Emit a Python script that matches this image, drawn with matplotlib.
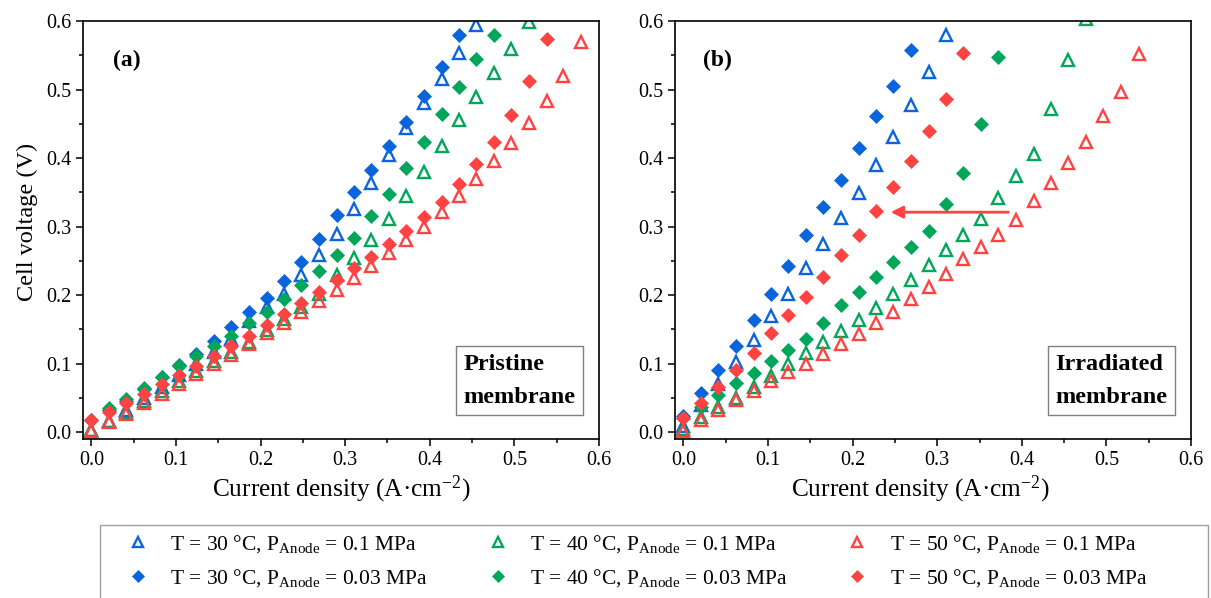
import matplotlib
matplotlib.use('Agg')
import matplotlib.pyplot as plt
from matplotlib.patches import Rectangle
from matplotlib.ticker import MultipleLocator, FormatStrFormatter

plt.rcParams['font.family'] = 'Liberation Serif'
plt.rcParams['mathtext.fontset'] = 'custom'
plt.rcParams['mathtext.rm'] = 'Liberation Serif'
plt.rcParams['mathtext.it'] = 'Liberation Serif:italic'
plt.rcParams['mathtext.bf'] = 'Liberation Serif:bold'

# current density steps (A/cm2)
j = [0.0, 0.021, 0.041, 0.062, 0.083, 0.103, 0.124, 0.145, 0.165, 0.186,
     0.207, 0.228, 0.248, 0.269, 0.290, 0.310, 0.331, 0.352, 0.372, 0.393,
     0.414, 0.434, 0.455, 0.476, 0.496, 0.517, 0.538, 0.558, 0.579]

# (a) pristine membrane, cell voltage (V)
a30_01 = [0.003, 0.016, 0.032, 0.050, 0.066, 0.083, 0.100, 0.117, 0.136, 0.162,
          0.183, 0.202, 0.230, 0.259, 0.289, 0.326, 0.364, 0.405, 0.444, 0.480,
          0.516, 0.554, 0.594]
a30_003 = [0.018, 0.032, 0.046, 0.063, 0.081, 0.098, 0.114, 0.133, 0.153, 0.175,
           0.196, 0.221, 0.249, 0.282, 0.317, 0.350, 0.383, 0.417, 0.452, 0.491,
           0.533, 0.580]
a40_01 = [0.003, 0.016, 0.030, 0.045, 0.060, 0.075, 0.089, 0.104, 0.117, 0.131,
          0.149, 0.165, 0.183, 0.201, 0.230, 0.254, 0.281, 0.311, 0.344, 0.380,
          0.418, 0.455, 0.489, 0.524, 0.559, 0.598]
a40_003 = [0.018, 0.035, 0.048, 0.065, 0.080, 0.096, 0.111, 0.126, 0.141, 0.159,
           0.176, 0.194, 0.214, 0.235, 0.259, 0.284, 0.315, 0.348, 0.385, 0.424,
           0.464, 0.503, 0.544, 0.580]
a50_01 = [0.001, 0.015, 0.027, 0.042, 0.055, 0.070, 0.085, 0.099, 0.113, 0.128,
          0.144, 0.159, 0.175, 0.192, 0.208, 0.225, 0.243, 0.261, 0.280, 0.300,
          0.321, 0.344, 0.369, 0.396, 0.422, 0.451, 0.483, 0.520, 0.570]
a50_003 = [0.018, 0.030, 0.042, 0.056, 0.070, 0.083, 0.097, 0.111, 0.126, 0.141,
           0.157, 0.173, 0.189, 0.204, 0.222, 0.240, 0.256, 0.274, 0.293, 0.314,
           0.336, 0.362, 0.391, 0.423, 0.463, 0.513, 0.573]

# (b) irradiated membrane
b30_01 = [0.009, 0.039, 0.070, 0.103, 0.134, 0.169, 0.202, 0.240, 0.275, 0.312,
          0.349, 0.390, 0.431, 0.477, 0.525, 0.580]
b30_003 = [0.024, 0.057, 0.091, 0.125, 0.163, 0.201, 0.243, 0.287, 0.329, 0.368,
           0.414, 0.461, 0.505, 0.558]
b40_01 = [0.005, 0.022, 0.036, 0.050, 0.066, 0.082, 0.099, 0.115, 0.131, 0.147,
          0.164, 0.181, 0.201, 0.222, 0.244, 0.266, 0.288, 0.311, 0.342, 0.374,
          0.406, 0.471, 0.543, 0.603]
b40_003 = [0.020, 0.037, 0.054, 0.071, 0.087, 0.104, 0.120, 0.136, 0.159, 0.185,
           0.204, 0.226, 0.248, 0.270, 0.294, 0.333, 0.378, 0.449, 0.548]
b50_01 = [0.001, 0.017, 0.032, 0.047, 0.060, 0.075, 0.088, 0.100, 0.114, 0.128,
          0.143, 0.159, 0.176, 0.194, 0.212, 0.231, 0.252, 0.270, 0.288, 0.310,
          0.337, 0.364, 0.393, 0.424, 0.462, 0.497, 0.552]
b50_003 = [0.020, 0.043, 0.066, 0.091, 0.116, 0.144, 0.171, 0.197, 0.227, 0.258,
           0.288, 0.323, 0.358, 0.396, 0.440, 0.486, 0.554]

blue, green, red = '#0a64dc', '#00a65a', '#ff4242'

labels = [r'T = 30 °C, P$_{\mathrm{Anode}}$ = 0.1 MPa',
          r'T = 30 °C, P$_{\mathrm{Anode}}$ = 0.03 MPa',
          r'T = 40 °C, P$_{\mathrm{Anode}}$ = 0.1 MPa',
          r'T = 40 °C, P$_{\mathrm{Anode}}$ = 0.03 MPa',
          r'T = 50 °C, P$_{\mathrm{Anode}}$ = 0.1 MPa',
          r'T = 50 °C, P$_{\mathrm{Anode}}$ = 0.03 MPa']

fig = plt.figure(figsize=(12.11, 5.98), dpi=100)
ax1 = fig.add_axes([0.0685, 0.2659, 0.4261, 0.6990])
ax2 = fig.add_axes([0.5574, 0.2659, 0.4261, 0.6990])


def draw(ax, series):
    handles = []
    for v, c, filled in series:
        if filled:
            h, = ax.plot(j[:len(v)], v, ls='none', marker='D', ms=6.8,
                         mfc=c, mec=c, mew=0.5)
        else:
            h, = ax.plot(j[:len(v)], v, ls='none', marker='^', ms=8,
                         mfc='none', mec=c, mew=1.7)
        handles.append(h)
    return handles


hs = draw(ax1, [(a30_01, blue, False), (a30_003, blue, True),
                (a40_01, green, False), (a40_003, green, True),
                (a50_01, red, False), (a50_003, red, True)])
draw(ax2, [(b30_01, blue, False), (b30_003, blue, True),
           (b40_01, green, False), (b40_003, green, True),
           (b50_01, red, False), (b50_003, red, True)])

for ax in (ax1, ax2):
    ax.set_xlim(-0.01, 0.6)
    ax.set_ylim(-0.01, 0.6)
    ax.xaxis.set_major_locator(MultipleLocator(0.1))
    ax.xaxis.set_minor_locator(MultipleLocator(0.05))
    ax.yaxis.set_major_locator(MultipleLocator(0.1))
    ax.yaxis.set_minor_locator(MultipleLocator(0.05))
    ax.xaxis.set_major_formatter(FormatStrFormatter('%.1f'))
    ax.yaxis.set_major_formatter(FormatStrFormatter('%.1f'))
    ax.tick_params(which='major', direction='out', length=5, width=1.1,
                   labelsize=14.5, top=False, right=False)
    ax.tick_params(which='minor', direction='out', length=3, width=1.1,
                   top=False, right=False)
    for s in ax.spines.values():
        s.set_linewidth(1.2)
    ax.set_xlabel(r'Current density (A·cm$^{-2}$)', fontsize=18.3, labelpad=3)

ax2.xaxis.label.set_x(0.475)
ax1.set_ylabel('Cell voltage (V)', fontsize=17.5, labelpad=6)
ax1.yaxis.label.set_y(0.519)

ax1.text(0.058, 0.905, '(a)', transform=ax1.transAxes, fontsize=17,
         fontweight='bold', va='center')
ax2.text(0.054, 0.905, '(b)', transform=ax2.transAxes, fontsize=17,
         fontweight='bold', va='center')

box = dict(boxstyle='square,pad=0.3', fc='white', ec='#808080', lw=1)
ax1.text(0.737, 0.075, 'Pristine\nmembrane', transform=ax1.transAxes,
         fontsize=17.5, fontweight='bold', va='bottom', ha='left',
         linespacing=1.75, bbox=box)
ax2.text(0.737, 0.075, 'Irradiated\nmembrane', transform=ax2.transAxes,
         fontsize=17.5, fontweight='bold', va='bottom', ha='left',
         linespacing=1.75, bbox=box)

# shift of the 50 °C curve after irradiation
ax2.annotate('', xy=(0.245, 0.321), xytext=(0.384, 0.321),
             arrowprops=dict(arrowstyle='-|>', color=red, lw=2,
                             mutation_scale=18, shrinkA=0, shrinkB=0))

# legend frame runs past the bottom edge of the figure
fig.add_artist(Rectangle((100 / 1211, -0.02), 1108 / 1211, 0.02 + 1 - 525 / 598,
                         transform=fig.transFigure, fill=False,
                         ec='#a0a0a0', lw=1, clip_on=False))
fig.legend(hs, labels, loc='upper left', ncol=3,
           bbox_to_anchor=(127 / 1211, 1 - 533 / 598),
           fontsize=15.5, frameon=False, borderaxespad=0, borderpad=0,
           labelspacing=0.55, handlelength=1.0, handletextpad=1.0,
           columnspacing=2.75, markerscale=0.85)

fig.savefig('out.png', dpi=100)
